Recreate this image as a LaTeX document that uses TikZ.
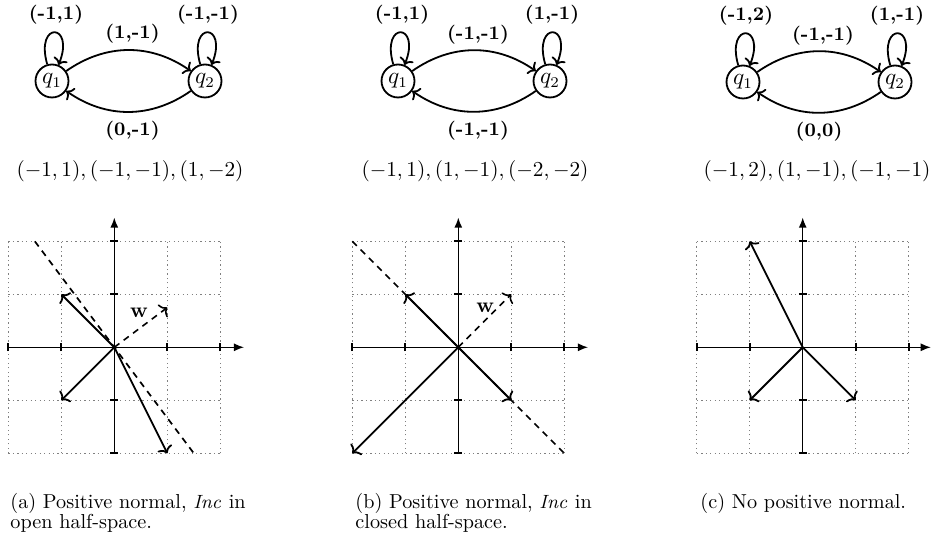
\documentclass[tikz,border=0pt]{standalone}
\usetikzlibrary{arrows.meta,calc}
\begin{document}
\begin{tikzpicture}[x=0.47pt,y=0.47pt,
  state/.style={circle,draw,line width=0.85pt,minimum size=15.5pt,inner sep=0pt,font=\fontsize{10.5}{12}\selectfont},
  tr/.style={-{To[length=3pt,width=7pt]},line width=0.85pt},
  lbl/.style={font=\fontsize{9}{10}\selectfont\bfseries,inner sep=0pt},
  loopst/.style={out=106,in=68,min distance=7.5mm,looseness=8},
  formula/.style={font=\fontsize{10}{12}\selectfont,inner sep=0pt},
  capst/.style={font=\fontsize{9.5}{11}\selectfont,inner sep=0pt,anchor=base west},
  gridst/.style={gray,line width=0.45pt,dash pattern=on 0.6pt off 1.5pt},
  axis/.style={-{Latex[length=4.8pt,width=3.8pt]},line width=0.7pt},
  tickst/.style={line width=0.9pt},
  vec/.style={-{To[length=3pt,width=7.5pt]},line width=0.85pt},
  dline/.style={line width=0.8pt,dash pattern=on 3pt off 2.5pt},
  wvec/.style={-{To[length=3pt,width=7.5pt]},line width=0.75pt,dash pattern=on 3pt off 2.5pt},
  wlbl/.style={font=\fontsize{10}{12}\selectfont,inner sep=0pt}
]
\useasboundingbox (0,0) rectangle (932,-539);

% ---------- automaton (a)
\node[state] (a1) at (52,-81) {$q_1$};
\node[state] (a2) at (205,-81) {$q_2$};
\draw[tr] (a1) to[loopst] (a1);
\draw[tr] (a2) to[loopst] (a2);
\draw[tr] (a1) to[bend left=35] coordinate[pos=0.5] (ta) (a2);
\draw[tr] (a2) to[bend left=35] coordinate[pos=0.5] (ba) (a1);
\node[lbl] (la1) at ($(a1)+(4,66)$) {(-1,1)};
\node[lbl] (la2) at ($(a2)+(3,66)$) {(-1,-1)};
\node[lbl] (la12) at ($(ta)+(4,16)$) {(1,-1)};
\node[lbl] (la21) at ($(ba)+(4,-19)$) {(0,-1)};

% ---------- automaton (b)
\node[state] (b1) at (398,-81) {$q_1$};
\node[state] (b2) at (550,-81) {$q_2$};
\draw[tr] (b1) to[loopst] (b1);
\draw[tr] (b2) to[loopst] (b2);
\draw[tr] (b1) to[bend left=35] coordinate[pos=0.5] (tb) (b2);
\draw[tr] (b2) to[bend left=35] coordinate[pos=0.5] (bb) (b1);
\node[lbl] (lb1) at ($(b1)+(4,66)$) {(-1,1)};
\node[lbl] (lb2) at ($(b2)+(2,66)$) {(1,-1)};
\node[lbl] (lb12) at ($(tb)+(4,16)$) {(-1,-1)};
\node[lbl] (lb21) at ($(bb)+(4,-19)$) {(-1,-1)};

% ---------- automaton (c)
\node[state] (c1) at (743,-82) {$q_1$};
\node[state] (c2) at (895,-82) {$q_2$};
\draw[tr] (c1) to[loopst] (c1);
\draw[tr] (c2) to[loopst] (c2);
\draw[tr] (c1) to[bend left=35] coordinate[pos=0.5] (tc) (c2);
\draw[tr] (c2) to[bend left=35] coordinate[pos=0.5] (bc) (c1);
\node[lbl] (lc1) at ($(c1)+(3,66)$) {(-1,2)};
\node[lbl] (lc2) at ($(c2)+(2,66)$) {(1,-1)};
\node[lbl] (lc12) at ($(tc)+(4,16)$) {(-1,-1)};
\node[lbl] (lc21) at ($(bc)+(0,-19)$) {(0,0)};

% ---------- formulas
\node[formula] (fa) at (130,-171) {$(-1,1),(-1,-1),(1,-2)$};
\node[formula] (fb) at (475,-171) {$(-1,1),(1,-1),(-2,-2)$};
\node[formula] (fc) at (817,-171) {$(-1,2),(1,-1),(-1,-1)$};

% ---------- plot (a)
\begin{scope}[shift={(114.3,-347.3)},x=24.9pt,y=24.9pt]
  \foreach \g in {-2,-1,0,1,2}{
    \draw[gridst] (\g,-2) -- (\g,2);
    \draw[gridst] (-2,\g) -- (2,\g);
  }
  \draw[axis] (-2,0) -- (2.45,0);
  \draw[axis] (0,-2) -- (0,2.45);
  \foreach \t in {-2,-1,1,2}{
    \draw[tickst] (\t,0) ++(0,-1.8pt) -- ++(0,3.6pt);
    \draw[tickst] (0,\t) ++(-1.8pt,0) -- ++(3.6pt,0);
  }
  \coordinate (oa) at (0,0);
  \draw[dline] (-1.5,2) -- (1.5,-2);
  \draw[wvec] (oa) -- (1,0.75);
  \node[wlbl] (wa) at (0.47,0.66) {$\mathbf{w}$};
  \draw[vec] (oa) -- (-1,1);
  \draw[vec] (oa) -- (-1,-1);
  \draw[vec] (oa) -- (1,-2);
\end{scope}

% ---------- plot (b)
\begin{scope}[shift={(458.3,-347.3)},x=24.9pt,y=24.9pt]
  \foreach \g in {-2,-1,0,1,2}{
    \draw[gridst] (\g,-2) -- (\g,2);
    \draw[gridst] (-2,\g) -- (2,\g);
  }
  \draw[axis] (-2,0) -- (2.45,0);
  \draw[axis] (0,-2) -- (0,2.45);
  \foreach \t in {-2,-1,1,2}{
    \draw[tickst] (\t,0) ++(0,-1.8pt) -- ++(0,3.6pt);
    \draw[tickst] (0,\t) ++(-1.8pt,0) -- ++(3.6pt,0);
  }
  \coordinate (ob) at (0,0);
  \draw[dline] (-2,2) -- (2,-2);
  \draw[wvec] (ob) -- (1,1);
  \node[wlbl] (wb) at (0.51,0.75) {$\mathbf{w}$};
  \draw[vec] (ob) -- (-1,1);
  \draw[vec] (ob) -- (1,-1);
  \draw[vec] (ob) -- (-2,-2);
\end{scope}

% ---------- plot (c)
\begin{scope}[shift={(802.7,-347.3)},x=24.9pt,y=24.9pt]
  \foreach \g in {-2,-1,0,1,2}{
    \draw[gridst] (\g,-2) -- (\g,2);
    \draw[gridst] (-2,\g) -- (2,\g);
  }
  \draw[axis] (-2,0) -- (2.42,0);
  \draw[axis] (0,-2) -- (0,2.45);
  \foreach \t in {-2,-1,1,2}{
    \draw[tickst] (\t,0) ++(0,-1.8pt) -- ++(0,3.6pt);
    \draw[tickst] (0,\t) ++(-1.8pt,0) -- ++(3.6pt,0);
  }
  \coordinate (oc) at (0,0);
  \draw[vec] (oc) -- (-1,2);
  \draw[vec] (oc) -- (1,-1);
  \draw[vec] (oc) -- (-1,-1);
\end{scope}

% ---------- captions
\node[capst] (ca1) at (10,-508) {(a) Positive normal, $\mathit{Inc}$ in};
\node[capst] (ca2) at (10,-528) {open half-space.};
\node[capst] (cb1) at (355,-508) {(b) Positive normal, $\mathit{Inc}$ in};
\node[capst] (cb2) at (355,-528) {closed half-space.};
\node[capst] (cc1) at (700,-508) {(c) No positive normal.};
\end{tikzpicture}
\end{document}
